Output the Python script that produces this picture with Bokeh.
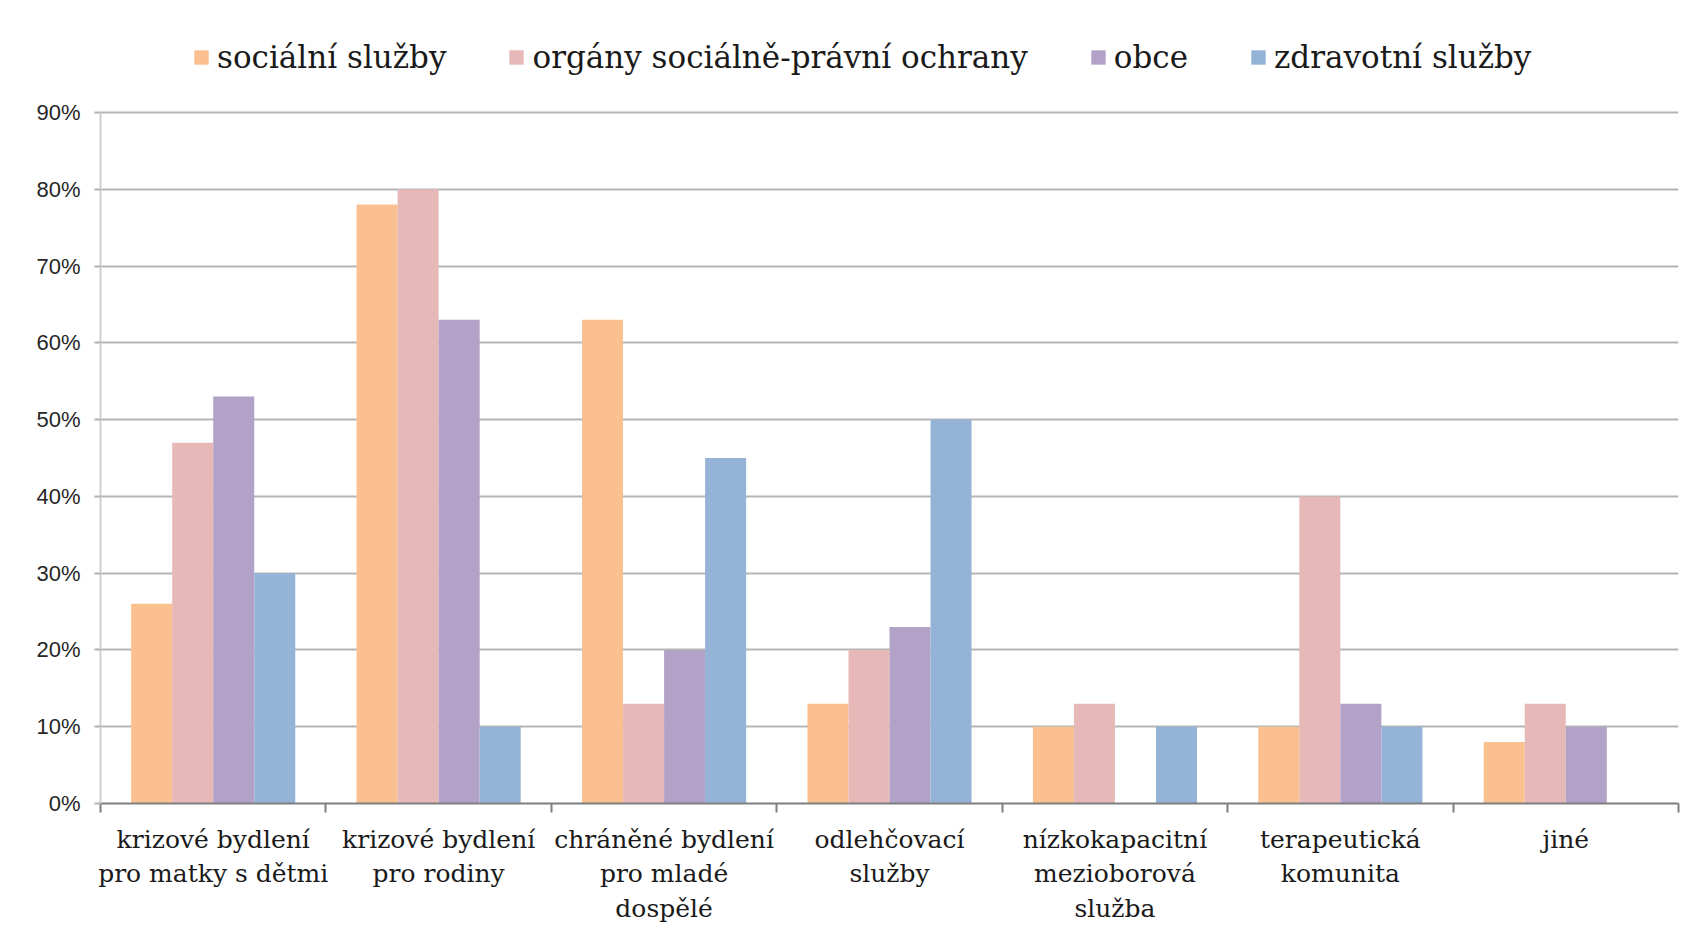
from bokeh.plotting import figure
from bokeh.models import ColumnDataSource, FixedTicker, NumeralTickFormatter, Legend, LegendItem, Range1d
from bokeh.embed import file_html
from bokeh.resources import INLINE

categories = ["krizové bydlení\npro matky s dětmi", "krizové bydlení\npro rodiny",
              "chráněné bydlení\npro mladé\ndospělé", "odlehčovací\nslužby",
              "nízkokapacitní\nmezioborová\nslužba", "terapeutická\nkomunita", "jiné"]
series_names = ["sociální služby", "orgány sociálně-právní ochrany", "obce", "zdravotní služby"]
socialni = [0.26, 0.78, 0.63, 0.13, 0.10, 0.10, 0.08]
ospod = [0.47, 0.80, 0.13, 0.20, 0.13, 0.40, 0.13]
obce = [0.53, 0.63, 0.20, 0.23, 0.00, 0.13, 0.10]
zdravotni = [0.30, 0.10, 0.45, 0.50, 0.10, 0.10, 0.00]
y_ticks = [0.0, 0.1, 0.2, 0.3, 0.4, 0.5, 0.6, 0.7, 0.8, 0.9]

colors = ["#FAC090", "#E6B9B8", "#B3A2C7", "#95B3D7"]
series = [socialni, ospod, obce, zdravotni]

p = figure(width=1682, height=926, output_backend="svg", toolbar_location=None,
           x_range=Range1d(0, len(categories)), y_range=Range1d(0, 1.0198))
p.min_border_left = 100
p.min_border_right = 4
p.min_border_top = 20
p.min_border_bottom = 123
p.outline_line_color = None
p.background_fill_color = "white"
p.border_fill_color = "white"

bw = 0.182
offsets = [-1.5 * bw, -0.5 * bw, 0.5 * bw, 1.5 * bw]
centers = [i + 0.5 for i in range(len(categories))]
items = []
for name, vals, col, off in zip(series_names, series, colors, offsets):
    src = ColumnDataSource(dict(x=[c + off for c in centers], top=vals))
    r = p.vbar(x="x", top="top", width=bw, source=src, fill_color=col, line_color=None)
    items.append(LegendItem(label=name, renderers=[r]))

legend = Legend(items=items, orientation="horizontal", location=(92, 728),
                label_text_font="DejaVu Serif", label_text_font_size="31px",
                label_text_color="#1a1a1a", glyph_width=18, glyph_height=18,
                spacing=61, label_standoff=7, border_line_color=None,
                background_fill_alpha=0, margin=0, padding=4)
p.add_layout(legend, "center")

# x axis
p.xaxis.ticker = FixedTicker(ticks=centers, minor_ticks=list(range(len(categories) + 1)))
p.xaxis.major_label_overrides = {c: lab for c, lab in zip(centers, categories)}
p.xaxis.major_label_text_font = "DejaVu Serif"
p.xaxis.major_label_text_font_size = "25px"
p.xaxis.major_label_text_color = "#1a1a1a"
p.xaxis.major_label_text_align = "center"
p.xaxis.major_tick_out = 0
p.xaxis.major_tick_in = 0
p.xaxis.minor_tick_out = 9
p.xaxis.minor_tick_in = 0
p.xaxis.minor_tick_line_color = "#7f7f7f"
p.xaxis.minor_tick_line_width = 2
p.xaxis.axis_line_color = "#7f7f7f"
p.xaxis.axis_line_width = 2
p.xaxis.major_label_standoff = 12

# y axis
p.yaxis.ticker = FixedTicker(ticks=y_ticks)
p.yaxis.bounds = (0, 0.9)
p.yaxis.formatter = NumeralTickFormatter(format="0%")
p.yaxis.major_label_text_font = "Liberation Sans"
p.yaxis.major_label_text_font_size = "22px"
p.yaxis.major_label_text_color = "#262626"
p.yaxis.axis_line_color = "#cfcfcf"
p.yaxis.axis_line_width = 2
p.yaxis.major_tick_out = 6
p.yaxis.major_tick_in = 0
p.yaxis.major_tick_line_color = "#b0b0b0"
p.yaxis.major_tick_line_width = 2
p.yaxis.minor_tick_line_color = None
p.yaxis.major_label_standoff = 14

p.xgrid.grid_line_color = None
p.ygrid.ticker = FixedTicker(ticks=y_ticks)
p.ygrid.grid_line_color = "#b5b5b5"
p.ygrid.grid_line_width = 2
p.ygrid.level = "underlay"

open("out.html", "w").write(file_html(p, INLINE))
